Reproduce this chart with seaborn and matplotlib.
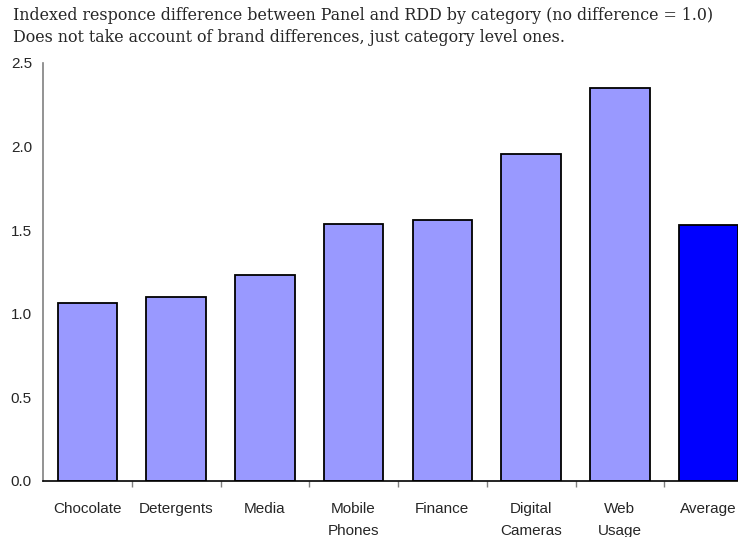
import matplotlib
matplotlib.use("Agg")
import matplotlib.pyplot as plt
import seaborn as sns
import pandas as pd
import numpy as np

categories = ["Chocolate", "Detergents", "Media", "Mobile\nPhones", "Finance",
              "Digital\nCameras", "Web\nUsage", "Average"]
values = [1.063, 1.099, 1.232, 1.539, 1.561, 1.958, 2.349, 1.529]
colors = ["#9999FF"] * 7 + ["#0000FF"]

df = pd.DataFrame({"category": categories, "value": values})

sns.set_style("white")
plt.rcParams["font.family"] = ["Liberation Sans", "DejaVu Sans"]

fig = plt.figure(figsize=(7.38, 5.37), dpi=100)
ax = fig.add_axes([43 / 738, 56 / 537, 710 / 738, 418 / 537])

sns.barplot(data=df, x="category", y="value", hue="category",
            palette=colors, legend=False, width=0.67,
            edgecolor="black", linewidth=1.3, saturation=1, ax=ax)

ax.set_xlim(-0.5, 7.5)
ax.set_ylim(0, 2.5)
ax.set_yticks(np.arange(0, 2.51, 0.5))
ax.set_yticklabels([f"{v:.1f}" for v in np.arange(0, 2.51, 0.5)],
                   fontsize=11, family=["Liberation Sans", "DejaVu Sans"])
ax.set_xlabel("")
ax.set_ylabel("")

# category labels without ticks, small ticks on the boundaries
ax.set_xticks(range(len(categories)))
ax.set_xticklabels(categories, fontsize=11, linespacing=1.75, va="top",
                   family=["Liberation Sans", "DejaVu Sans"])
ax.tick_params(axis="x", which="major", length=0, pad=15)
ax.set_xticks(np.arange(0.5, len(categories) - 0.5, 1), minor=True)
ax.tick_params(axis="x", which="minor", length=4, width=1, color="#808080",
               direction="out", bottom=True)
ax.tick_params(axis="y", length=0, pad=8)

for side in ["top", "right"]:
    ax.spines[side].set_visible(False)
ax.spines["left"].set_color("#808080")
ax.spines["left"].set_linewidth(1.2)
ax.spines["bottom"].set_color("#000000")
ax.spines["bottom"].set_linewidth(1.2)

serif = ["DejaVu Serif", "Liberation Serif"]
fig.text(13 / 738, 1 - 16 / 537,
         "Indexed responce difference between Panel and RDD by category (no difference = 1.0)",
         family=serif, fontsize=11.4, va="center", ha="left")
fig.text(13 / 738, 1 - 38 / 537,
         "Does not take account of brand differences, just category level ones.",
         family=serif, fontsize=11.4, va="center", ha="left")

fig.savefig("out.png", dpi=100)
